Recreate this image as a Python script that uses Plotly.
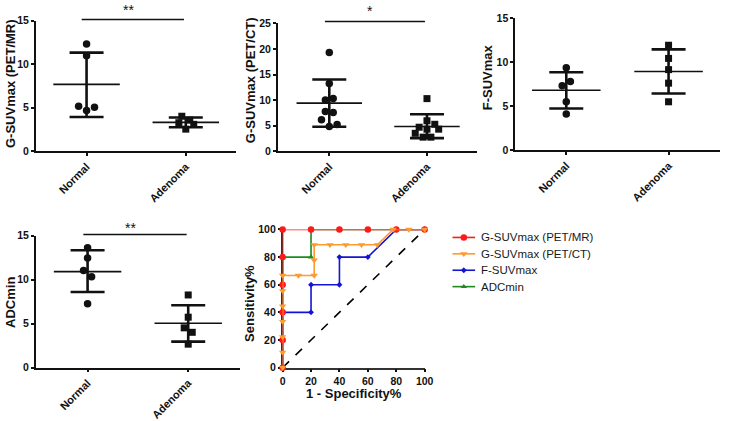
import plotly.graph_objects as go

W, H = 730, 421
def X(px): return px / W
def Y(py): return 1 - py / H

groups = ["Normal", "Adenoma"]

# Panel A: G-SUVmax (PET/MR)
mr_normal = [12.34, 10.97, 5.17, 4.70, 5.06]
mr_adenoma = [4.03, 3.29, 3.59, 3.10, 2.55]
mr_mean = [7.69, 3.33]
mr_upper = [11.34, 3.88]
mr_lower = [3.95, 2.77]

# Panel B: G-SUVmax (PET/CT)
ct_normal = [19.29, 13.26, 10.05, 10.30, 7.80, 7.60, 6.16, 4.84, 5.22]
ct_adenoma = [10.30, 5.97, 5.28, 4.71, 4.33, 4.33, 3.52, 2.77, 2.77]
ct_mean = [9.42, 4.86]
ct_upper = [14.02, 7.24]
ct_lower = [4.79, 2.58]

# Panel C: F-SUVmax
f_normal = [9.36, 7.32, 7.79, 5.50, 4.12]
f_adenoma = [11.90, 10.41, 9.14, 7.61, 5.50]
f_mean = [6.81, 8.92]
f_upper = [8.85, 11.43]
f_lower = [4.74, 6.44]

# Panel D: ADCmin
adc_normal = [13.65, 12.48, 11.05, 10.35, 7.28]
adc_adenoma = [8.27, 5.74, 4.53, 4.02, 2.67]
adc_mean = [10.92, 5.05]
adc_upper = [13.36, 7.10]
adc_lower = [8.60, 2.96]

# ROC curves
roc_names = ["G-SUVmax (PET/MR)", "G-SUVmax (PET/CT)", "F-SUVmax", "ADCmin"]
mr_fpr = [0, 0, 0, 0, 0, 0, 20, 40, 60, 80, 100]
mr_tpr = [0, 20, 40, 60, 80, 100, 100, 100, 100, 100, 100]
ct_fpr = [0, 0, 0, 0, 0, 0, 0, 11.11, 22.22, 22.22, 22.22, 33.33, 44.44, 55.56, 66.67, 77.78, 88.89, 100]
ct_tpr = [0, 11.11, 22.22, 33.33, 44.44, 55.56, 66.67, 66.67, 66.67, 77.78, 88.89, 88.89, 88.89, 88.89, 88.89, 100, 100, 100]
fs_fpr = [0, 0, 0, 20, 20, 40, 40, 60, 80, 100]
fs_tpr = [0, 20, 40, 40, 60, 60, 80, 80, 100, 100]
adcr_fpr = [0, 0, 0, 0, 0, 20, 20, 40, 60, 80, 100]
adcr_tpr = [0, 20, 40, 60, 80, 80, 100, 100, 100, 100, 100]

# jitter (visual offsets of overlapping points, in category units)
jit = {
    "mr_n": [0, 0, -0.08, 0, 0.08],
    "mr_a": [-0.04, -0.07, 0.04, 0.08, 0],
    "ct_n": [0, 0, -0.04, 0.04, -0.04, 0.04, -0.08, 0, 0.08],
    "ct_a": [0, 0, 0.08, -0.08, 0, 0.12, -0.12, -0.04, 0.04],
    "f_n": [0, -0.04, 0.04, 0, 0],
    "f_a": [0, 0, 0, 0, 0],
    "adc_n": [0, 0, -0.04, 0.04, 0],
    "adc_a": [0, 0, -0.04, 0.04, 0],
}

INK = "#111111"
FONT = "Arial, Liberation Sans, sans-serif"

fig = go.Figure()

def scatter_panel(xa, ya, normal, adenoma, jn, ja, mean, upper, lower):
    fig.add_trace(go.Scatter(x=[0 + j for j in jn], y=normal, mode="markers",
                             marker=dict(symbol="circle", size=7.5, color=INK),
                             xaxis=xa, yaxis=ya, showlegend=False, cliponaxis=False))
    fig.add_trace(go.Scatter(x=[1 + j for j in ja], y=adenoma, mode="markers",
                             marker=dict(symbol="square", size=7, color=INK),
                             xaxis=xa, yaxis=ya, showlegend=False, cliponaxis=False))
    fig.add_trace(go.Scatter(x=[0, 1], y=mean, mode="markers",
                             marker=dict(size=1, color="rgba(0,0,0,0)"),
                             error_y=dict(type="data", symmetric=False,
                                          array=[u - m for u, m in zip(upper, mean)],
                                          arrayminus=[m - l for m, l in zip(mean, lower)],
                                          width=17, thickness=2.6, color=INK),
                             xaxis=xa, yaxis=ya, showlegend=False, hoverinfo="skip"))
    for i, m in enumerate(mean):
        fig.add_trace(go.Scatter(x=[i - 0.335, i + 0.335], y=[m, m], mode="lines",
                                 line=dict(color=INK, width=1.6),
                                 xaxis=xa, yaxis=ya, showlegend=False, hoverinfo="skip"))

scatter_panel("x", "y", mr_normal, mr_adenoma, jit["mr_n"], jit["mr_a"], mr_mean, mr_upper, mr_lower)
scatter_panel("x2", "y2", ct_normal, ct_adenoma, jit["ct_n"], jit["ct_a"], ct_mean, ct_upper, ct_lower)
scatter_panel("x3", "y3", f_normal, f_adenoma, jit["f_n"], jit["f_a"], f_mean, f_upper, f_lower)
scatter_panel("x4", "y4", adc_normal, adc_adenoma, jit["adc_n"], jit["adc_a"], adc_mean, adc_upper, adc_lower)

# ROC
fig.add_trace(go.Scatter(x=[0, 100], y=[0, 100], mode="lines",
                         line=dict(color="black", width=1.6, dash="dash"),
                         xaxis="x5", yaxis="y5", showlegend=False, hoverinfo="skip"))
styles = {
    roc_names[0]: ("#ff1a1a", "circle", 6.5),
    roc_names[1]: ("#ff9a2e", "triangle-down", 6.5),
    roc_names[2]: ("#1414d2", "diamond", 4.5),
    roc_names[3]: ("#1f8a1f", "triangle-up", 5.5),
}
curves = [
    (adcr_fpr, adcr_tpr, roc_names[3]),
    (fs_fpr, fs_tpr, roc_names[2]),
    (mr_fpr, mr_tpr, roc_names[0]),
    (ct_fpr, ct_tpr, roc_names[1]),
]
for fx, ty, name in curves:
    col, sym, sz = styles[name]
    fig.add_trace(go.Scatter(x=fx, y=ty, mode="lines+markers", name=name,
                             line=dict(color=col, width=1.6),
                             marker=dict(symbol=sym, size=sz, color=col),
                             xaxis="x5", yaxis="y5", showlegend=False, cliponaxis=False))

# custom legend (pixel overlay axis)
leg_y = [240, 257, 274, 291]
for name, ly in zip(roc_names, leg_y):
    col, sym, sz = styles[name]
    fig.add_trace(go.Scatter(x=[457, 480], y=[ly, ly], mode="lines",
                             line=dict(color=col, width=1.6),
                             xaxis="x6", yaxis="y6", showlegend=False, hoverinfo="skip"))
    fig.add_trace(go.Scatter(x=[468.5], y=[ly], mode="markers",
                             marker=dict(symbol=sym, size=sz, color=col),
                             xaxis="x6", yaxis="y6", showlegend=False, hoverinfo="skip"))
    fig.add_annotation(text=name, x=X(484), y=Y(ly), xref="paper", yref="paper",
                       showarrow=False, xanchor="left", yanchor="middle",
                       font=dict(family=FONT, size=11.5, color="#1a1a1a"))

axis_common = dict(showline=True, linecolor=INK, linewidth=1.5, ticks="outside",
                   ticklen=3, tickwidth=1.5, tickcolor=INK, showgrid=False, zeroline=False,
                   tickfont=dict(family=FONT, size=10.5, color=INK, weight="bold"))
cat_axis = dict(axis_common, tickvals=[0, 1], ticktext=groups, tickangle=-45,
                tickfont=dict(family=FONT, size=11, color=INK, weight="bold"))

fig.update_layout(
    width=W, height=H, margin=dict(l=0, r=0, t=0, b=0),
    paper_bgcolor="white", plot_bgcolor="rgba(0,0,0,0)",
    xaxis=dict(cat_axis, domain=[X(33.3), X(237.3)], range=[-0.512, 1.51], anchor="y"),
    yaxis=dict(axis_common, domain=[Y(150.7), Y(15.3)], range=[0, 15], tickvals=[0, 5, 10, 15], anchor="x"),
    xaxis2=dict(cat_axis, domain=[X(279.3), X(481.7)], range=[-0.528, 1.51], anchor="y2"),
    yaxis2=dict(axis_common, domain=[Y(150.7), Y(18)], range=[0, 25], tickvals=[0, 5, 10, 15, 20, 25], anchor="x2"),
    xaxis3=dict(cat_axis, domain=[X(520.7), X(729)], range=[-0.5, 1.503], anchor="y3"),
    yaxis3=dict(axis_common, domain=[Y(149.7), Y(12.3)], range=[0, 15], tickvals=[0, 5, 10, 15], anchor="x3"),
    xaxis4=dict(cat_axis, domain=[X(33.3), X(240.7)], range=[-0.515, 1.512], anchor="y4"),
    yaxis4=dict(axis_common, domain=[Y(375), Y(238.3)], range=[0, 15], tickvals=[0, 5, 10, 15], anchor="x4"),
    xaxis5=dict(axis_common, domain=[X(284.3), X(428.7)], range=[0, 100], tickvals=[0, 20, 40, 60, 80, 100],
                anchor="y5", layer="below traces", linecolor="#333333"),
    yaxis5=dict(axis_common, domain=[Y(375), Y(231.7)], range=[0, 100], tickvals=[0, 20, 40, 60, 80, 100],
                anchor="x5", layer="below traces", linecolor="#333333"),
    xaxis6=dict(domain=[0, 1], range=[0, W], visible=False, fixedrange=True, anchor="y6"),
    yaxis6=dict(domain=[0, 1], range=[H, 0], visible=False, fixedrange=True, anchor="x6"),
    showlegend=False,
)

titles = [
    ("G-SUVmax (PET/MR)", 7, 80, -90),
    ("G-SUVmax (PET/CT)", 251, 77, -90),
    ("F-SUVmax", 492, 74, -90),
    ("ADCmin", 7, 307, -90),
    ("Sensitivity%", 250, 308, -90),
    ("1 - Specificity%", 357, 401.5, 0),
]
for t, px, py, ang in titles:
    fig.add_annotation(text=t, x=X(px), y=Y(py), xref="paper", yref="paper",
                       showarrow=False, textangle=ang, xanchor="center", yanchor="middle",
                       font=dict(family=FONT, size=13, color=INK, weight="bold"))

sig = [
    ("**", 80, 184, 14, 128, 4),
    ("*", 327.3, 429, 16, 373, 5),
    ("**", 81.7, 186.7, 237, 130, 230),
]
for txt, x0, x1, yl, tx, ty in sig:
    fig.add_shape(type="line", xref="paper", yref="paper",
                  x0=X(x0), x1=X(x1), y0=Y(yl), y1=Y(yl),
                  line=dict(color=INK, width=1.5))
    fig.add_annotation(text=txt, x=X(tx), y=Y(ty), xref="paper", yref="paper",
                       showarrow=False, xanchor="center", yanchor="middle",
                       font=dict(family=FONT, size=14, color=INK))

fig.write_html("out.html")
